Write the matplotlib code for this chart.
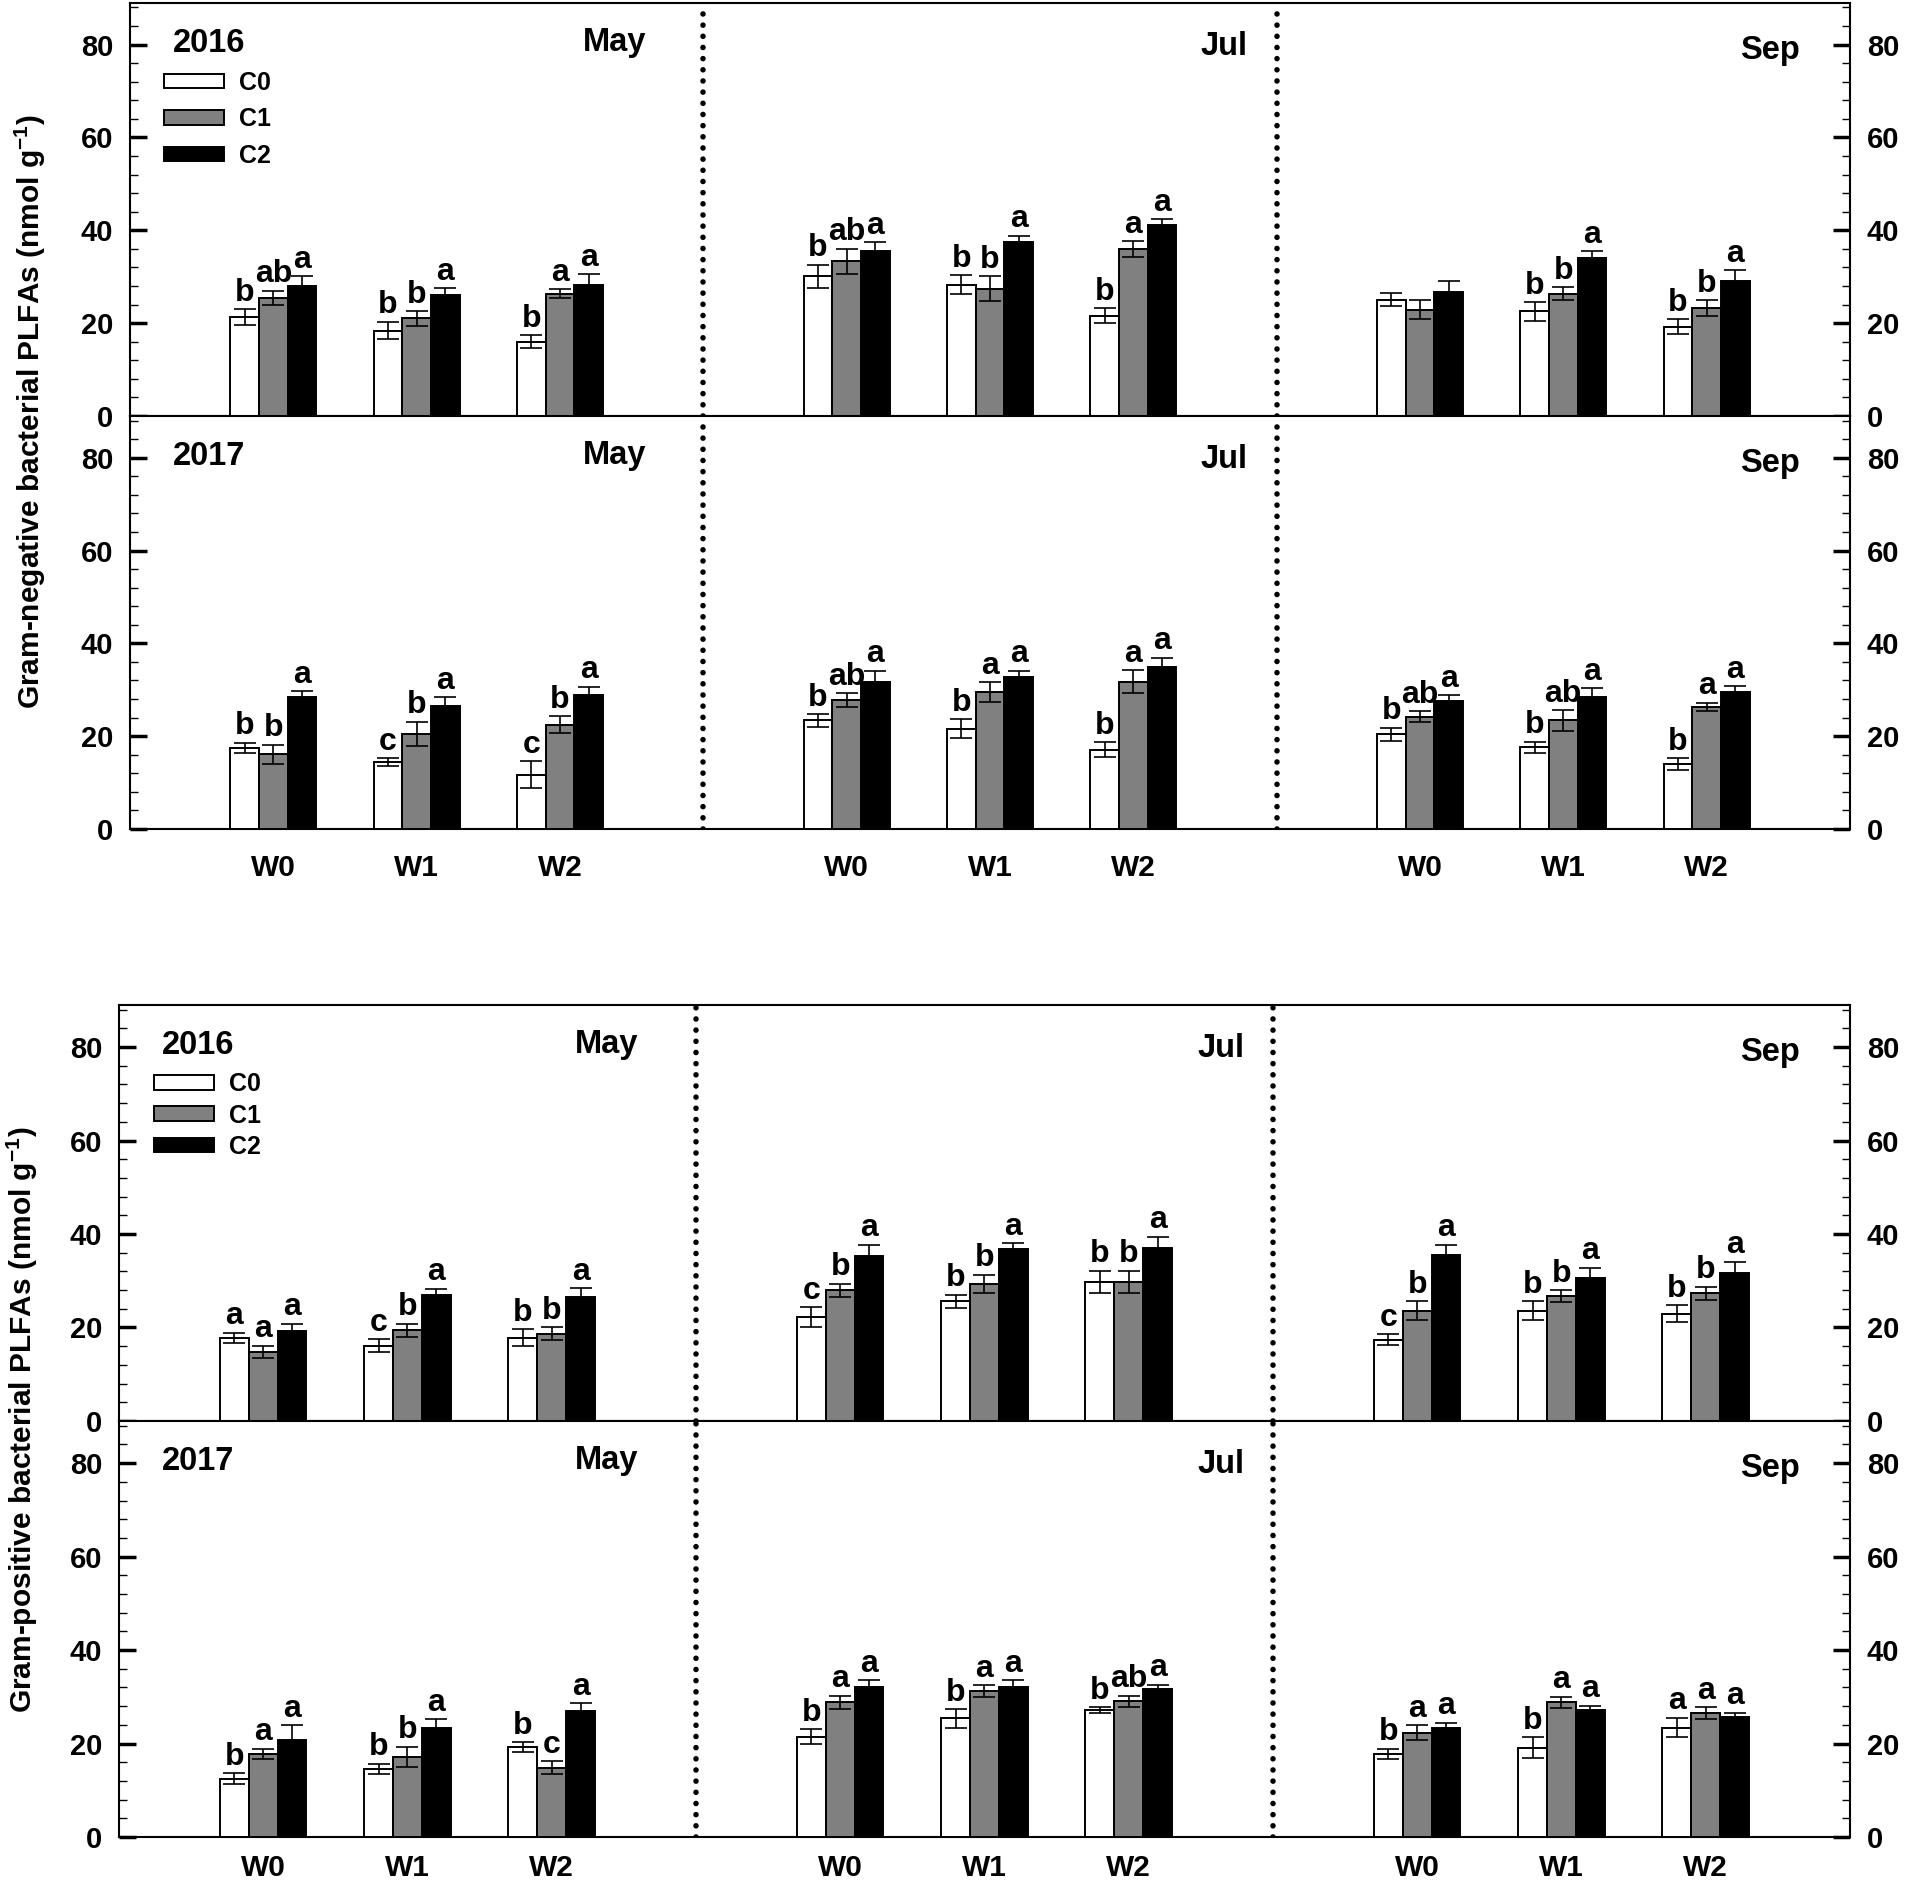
import numpy as np
import matplotlib
matplotlib.use('Agg')
import matplotlib.pyplot as plt
from matplotlib.ticker import MultipleLocator

months = ['May', 'Jul', 'Sep']
levels = ['W0', 'W1', 'W2']
treatments = ['C0', 'C1', 'C2']

# Gram-negative, 2016  (May W0-W2, Jul W0-W2, Sep W0-W2)
gn16_c0 = [21.3, 18.4, 16.0, 30.1, 28.3, 21.6, 25.0, 22.5, 19.2]
gn16_c1 = [25.4, 21.0, 26.3, 33.3, 27.4, 36.0, 22.9, 26.3, 23.2]
gn16_c2 = [27.9, 26.1, 28.3, 35.5, 37.5, 41.2, 26.8, 34.0, 29.0]
gn16_c0_se = [1.7, 1.9, 1.4, 2.5, 2.0, 1.6, 1.4, 2.0, 1.6]
gn16_c1_se = [1.6, 1.6, 1.0, 2.7, 2.7, 1.7, 2.1, 1.4, 1.7]
gn16_c2_se = [2.2, 1.4, 2.2, 2.0, 1.3, 1.2, 2.2, 1.5, 2.4]
gn16_c0_let = ['b', 'b', 'b', 'b', 'b', 'b', '', 'b', 'b']
gn16_c1_let = ['ab', 'b', 'a', 'ab', 'b', 'a', '', 'b', 'b']
gn16_c2_let = ['a', 'a', 'a', 'a', 'a', 'a', '', 'a', 'a']

# Gram-negative, 2017
gn17_c0 = [17.5, 14.4, 11.7, 23.4, 21.6, 17.1, 20.4, 17.6, 14.0]
gn17_c1 = [16.1, 20.5, 22.5, 27.7, 29.5, 31.7, 24.2, 23.4, 26.3]
gn17_c2 = [28.4, 26.5, 28.8, 31.7, 32.8, 34.8, 27.6, 28.4, 29.5]
gn17_c0_se = [1.1, 0.9, 2.9, 1.4, 2.0, 1.6, 1.4, 1.2, 1.2]
gn17_c1_se = [2.1, 2.6, 1.8, 1.5, 2.2, 2.5, 1.2, 2.2, 0.9]
gn17_c2_se = [1.3, 1.9, 1.9, 2.4, 1.3, 2.1, 1.3, 2.0, 1.3]
gn17_c0_let = ['b', 'c', 'c', 'b', 'b', 'b', 'b', 'b', 'b']
gn17_c1_let = ['b', 'b', 'b', 'ab', 'a', 'a', 'ab', 'ab', 'a']
gn17_c2_let = ['a', 'a', 'a', 'a', 'a', 'a', 'a', 'a', 'a']

# Gram-positive, 2016
gp16_c0 = [17.8, 16.1, 17.8, 22.2, 25.6, 29.7, 17.4, 23.6, 22.9]
gp16_c1 = [14.8, 19.4, 18.7, 28.0, 29.3, 29.7, 23.6, 26.7, 27.3]
gp16_c2 = [19.2, 26.9, 26.6, 35.3, 36.7, 37.1, 35.5, 30.5, 31.7]
gp16_c0_se = [1.1, 1.4, 1.8, 2.1, 1.4, 2.4, 1.2, 2.0, 1.8]
gp16_c1_se = [1.3, 1.4, 1.4, 1.4, 2.0, 2.4, 2.0, 1.3, 1.4]
gp16_c2_se = [1.6, 1.4, 1.8, 2.4, 1.3, 2.3, 2.2, 2.3, 2.4]
gp16_c0_let = ['a', 'c', 'b', 'c', 'b', 'b', 'c', 'b', 'b']
gp16_c1_let = ['a', 'b', 'b', 'b', 'b', 'b', 'b', 'b', 'b']
gp16_c2_let = ['a', 'a', 'a', 'a', 'a', 'a', 'a', 'a', 'a']

# Gram-positive, 2017
gp17_c0 = [12.5, 14.6, 19.3, 21.5, 25.4, 27.2, 17.8, 19.1, 23.4]
gp17_c1 = [17.8, 17.1, 14.8, 28.8, 31.2, 29.0, 22.3, 28.8, 26.5]
gp17_c2 = [20.7, 23.3, 26.9, 32.2, 32.2, 31.7, 23.4, 27.2, 25.7]
gp17_c0_se = [1.1, 1.1, 1.0, 1.6, 2.0, 0.6, 1.1, 2.2, 2.1]
gp17_c1_se = [1.1, 2.2, 1.4, 1.4, 1.3, 1.2, 1.6, 1.2, 1.3]
gp17_c2_se = [3.2, 1.9, 1.7, 1.3, 1.3, 0.9, 1.1, 0.9, 0.9]
gp17_c0_let = ['b', 'b', 'b', 'b', 'b', 'b', 'b', 'b', 'a']
gp17_c1_let = ['a', 'b', 'c', 'a', 'a', 'ab', 'a', 'a', 'a']
gp17_c2_let = ['a', 'a', 'a', 'a', 'a', 'a', 'a', 'a', 'a']

colors = ['white', '#808080', 'black']
month_x = [3.6, 7.8, 11.65]
month_y = [78.7, 77.8, 77.0]

plt.rcParams['font.family'] = ['Liberation Sans', 'DejaVu Sans']
plt.rcParams['font.weight'] = 'bold'
plt.rcParams['mathtext.fontset'] = 'custom'
plt.rcParams['mathtext.rm'] = 'Liberation Sans:bold'
plt.rcParams['mathtext.default'] = 'rm'


def draw_panel(ax, year, means, errs, letters, legend=None, bottom=False, xpad=18):
    group_x = np.array([1, 2, 3, 5, 6, 7, 9, 10, 11])
    for i, t in enumerate(treatments):
        xs = group_x + (i - 1) * 0.2
        ax.bar(xs, means[i], 0.2, color=colors[i], edgecolor='black', linewidth=1.4, zorder=3, label=t)
        ax.errorbar(xs, means[i], yerr=errs[i], fmt='none', ecolor='black',
                    elinewidth=1.2, capsize=8, capthick=1.2, zorder=4)
        for xx, m, e, l in zip(xs, means[i], errs[i], letters[i]):
            if l:
                ax.text(xx, m + e + 1.8, l, ha='center', va='baseline', fontsize=23)
    for xv in (4, 8):
        ax.axvline(xv, color='black', lw=4, linestyle=(0, (0.01, 2.0)), dash_capstyle='round', zorder=2)
    ax.set_xlim(0, 12)
    ax.set_ylim(0, 89)
    ax.yaxis.set_major_locator(MultipleLocator(20))
    ax.yaxis.set_minor_locator(MultipleLocator(4))
    ax.tick_params(axis='y', which='both', direction='in', left=True, right=True,
                   labelleft=True, labelright=True, labelsize=21, pad=12)
    ax.tick_params(axis='y', which='major', length=12, width=2.5)
    ax.tick_params(axis='y', which='minor', length=6, width=1)
    ax.set_xticks([1, 2, 3, 5, 6, 7, 9, 10, 11])
    ax.set_xticklabels(levels * 3)
    ax.tick_params(axis='x', length=0, pad=xpad, labelsize=21.5, labelbottom=bottom)
    for s in ax.spines.values():
        s.set_linewidth(1.5)
    ax.text(0.3, 78.5, year, ha='left', va='baseline', fontsize=23.5)
    for mx, my, m in zip(month_x, month_y, months):
        ax.text(mx, my, m, ha='right', va='baseline', fontsize=23.5)
    if legend is not None:
        ax.legend(loc='upper left', bbox_to_anchor=(0.02, legend[0]), frameon=False, fontsize=18,
                  handlelength=2.4, handleheight=0.52, labelspacing=legend[1], handletextpad=0.6,
                  borderpad=0, borderaxespad=0)


fig = plt.figure(figsize=(19.06, 18.88), dpi=100)

ax1 = fig.add_axes([0.0682, 0.7797, 0.9024, 0.2188])
draw_panel(ax1, '2016', [gn16_c0, gn16_c1, gn16_c2], [gn16_c0_se, gn16_c1_se, gn16_c2_se],
           [gn16_c0_let, gn16_c1_let, gn16_c2_let], legend=(0.835, 0.5))
ax2 = fig.add_axes([0.0682, 0.5609, 0.9024, 0.2188])
draw_panel(ax2, '2017', [gn17_c0, gn17_c1, gn17_c2], [gn17_c0_se, gn17_c1_se, gn17_c2_se],
           [gn17_c0_let, gn17_c1_let, gn17_c2_let], bottom=True)
ax3 = fig.add_axes([0.0624, 0.2474, 0.9082, 0.2203])
draw_panel(ax3, '2016', [gp16_c0, gp16_c1, gp16_c2], [gp16_c0_se, gp16_c1_se, gp16_c2_se],
           [gp16_c0_let, gp16_c1_let, gp16_c2_let], legend=(0.838, 0.29))
ax4 = fig.add_axes([0.0624, 0.0270, 0.9082, 0.2203])
draw_panel(ax4, '2017', [gp17_c0, gp17_c1, gp17_c2], [gp17_c0_se, gp17_c1_se, gp17_c2_se],
           [gp17_c0_let, gp17_c1_let, gp17_c2_let], bottom=True, xpad=12)

fig.text(0.0157, 0.782, 'Gram-negative bacterial PLFAs (nmol g$^{-1}$)', rotation=90,
         ha='center', va='center', fontsize=21.5)
fig.text(0.0115, 0.248, 'Gram-positive bacterial PLFAs (nmol g$^{-1}$)', rotation=90,
         ha='center', va='center', fontsize=21.5)

fig.savefig('out.png', dpi=100)
